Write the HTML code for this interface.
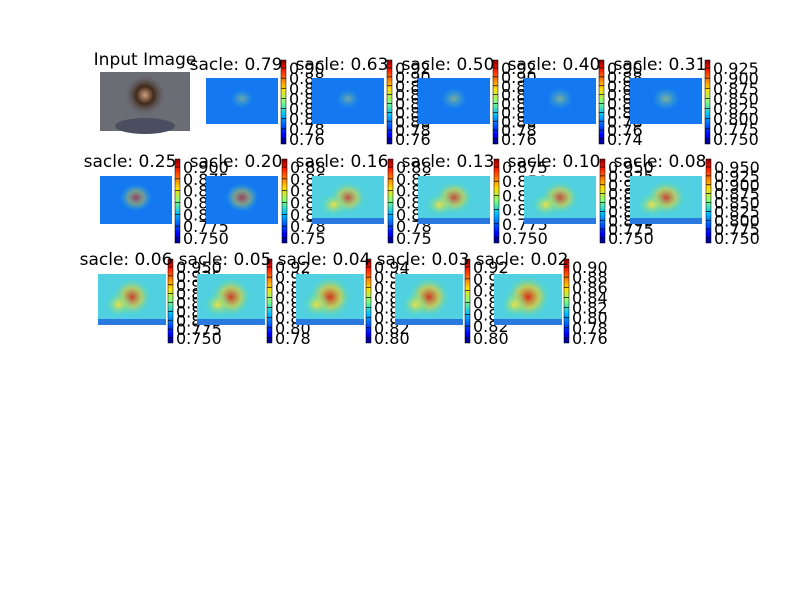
<!DOCTYPE html>
<html><head><meta charset="utf-8"><style>
body{margin:0;background:#fff;}
svg text{font-family:"DejaVu Sans","Liberation Sans",sans-serif;}
</style></head><body>
<svg id="fig" width="800" height="600" xmlns="http://www.w3.org/2000/svg">
<defs>
<linearGradient id="jet" x1="0" y1="1" x2="0" y2="0">
<stop offset="0" stop-color="#00007f"/><stop offset="0.11" stop-color="#0000ff"/>
<stop offset="0.35" stop-color="#00bfff"/><stop offset="0.5" stop-color="#7fff7f"/>
<stop offset="0.65" stop-color="#ffdf00"/><stop offset="0.89" stop-color="#ff1500"/>
<stop offset="1" stop-color="#7f0000"/></linearGradient>
<radialGradient id="hot"><stop offset="0" stop-color="#e0200a"/><stop offset="0.5" stop-color="#f0d020" stop-opacity="0.7"/><stop offset="1" stop-color="#40e0c0" stop-opacity="0"/></radialGradient>
<radialGradient id="warm"><stop offset="0" stop-color="#f0e040"/><stop offset="1" stop-color="#40e0c0" stop-opacity="0"/></radialGradient>
<radialGradient id="face"><stop offset="0" stop-color="#d0a080"/><stop offset="0.4" stop-color="#402818"/><stop offset="1" stop-color="#707080" stop-opacity="0"/></radialGradient>
</defs>
<rect x="100" y="72" width="90" height="59" fill="#6a6e74"/>
<ellipse cx="145" cy="95" rx="22" ry="22" fill="url(#face)"/>
<ellipse cx="145" cy="126" rx="30" ry="8" fill="#4a4e60"/>
<text x="145" y="65" font-size="17" text-anchor="middle">Input Image</text>
<g id="plots"></g>
</svg>
<script>
const titles=["sacle: 0.79","sacle: 0.63","sacle: 0.50","sacle: 0.40","sacle: 0.31","sacle: 0.25","sacle: 0.20","sacle: 0.16","sacle: 0.13","sacle: 0.10","sacle: 0.08","sacle: 0.06","sacle: 0.05","sacle: 0.04","sacle: 0.03","sacle: 0.02"];
const tickLabels=[
["0.76","0.78","0.80","0.82","0.84","0.86","0.88","0.90"],
["0.76","0.78","0.80","0.82","0.84","0.86","0.88","0.90","0.92"],
["0.76","0.78","0.80","0.82","0.84","0.86","0.88","0.90","0.92"],
["0.74","0.76","0.78","0.80","0.82","0.84","0.86","0.88","0.90"],
["0.750","0.775","0.800","0.825","0.850","0.875","0.900","0.925"],
["0.750","0.775","0.800","0.825","0.850","0.875","0.900"],
["0.75","0.78","0.80","0.82","0.84","0.86","0.88"],
["0.75","0.78","0.80","0.82","0.84","0.86","0.88"],
["0.750","0.775","0.800","0.825","0.850","0.875"],
["0.750","0.775","0.800","0.825","0.850","0.875","0.900","0.925","0.950"],
["0.750","0.775","0.800","0.825","0.850","0.875","0.900","0.925","0.950"],
["0.750","0.775","0.800","0.825","0.850","0.875","0.900","0.925","0.950"],
["0.78","0.80","0.82","0.84","0.86","0.88","0.90","0.92"],
["0.80","0.82","0.84","0.86","0.88","0.90","0.92","0.94"],
["0.80","0.82","0.84","0.86","0.88","0.90","0.92"],
["0.76","0.78","0.80","0.82","0.84","0.86","0.88","0.90"]];
const heat=[0.05,0.05,0.15,0.15,0.2,0.35,0.4,0.55,0.6,0.6,0.65,0.7,0.75,0.85,0.8,0.9];
const g=document.getElementById('plots');
const NS='http://www.w3.org/2000/svg';
function mk(t,a){const e=document.createElementNS(NS,t);for(const k in a)e.setAttribute(k,a[k]);g.appendChild(e);return e;}
const layout=[];
for(let i=0;i<5;i++)layout.push({ix:206+106*i,iy:78,iw:72,ih:46,cx:281+106*i,cy0:60,cy1:144});
for(let i=0;i<6;i++)layout.push({ix:100+106*i,iy:176,iw:72,ih:48,cx:175+106*i+(i>0?1:0),cy0:159,cy1:243});
for(let i=0;i<5;i++)layout.push({ix:98+99*i,iy:274,iw:68,ih:51,cx:168+99*i,cy0:259,cy1:343});
titles.forEach((t,i)=>{
 const L=layout[i];
 const im=mk('rect',{x:L.ix,y:L.iy,width:L.iw,height:L.ih,fill:heat[i]>0.5?'#50d0e0':'#1478f0'});
 
 
 const h=heat[i];
 mk('ellipse',{cx:L.ix+L.iw*0.5,cy:L.iy+L.ih*0.45,rx:L.iw*(0.15+0.2*h),ry:L.ih*(0.2+0.25*h),fill:h>0.3?'url(#hot)':'url(#warm)',opacity:0.4+0.6*h});
 if(h>0.5){mk('ellipse',{cx:L.ix+L.iw*0.3,cy:L.iy+L.ih*0.6,rx:L.iw*0.2,ry:L.ih*0.25,fill:'url(#warm)'});
  mk('rect',{x:L.ix,y:L.iy+L.ih-6,width:L.iw,height:6,fill:'#1040e0',opacity:0.6});}
 const cb=mk('rect',{x:L.cx,y:L.cy0,width:5,height:L.cy1-L.cy0,fill:'url(#jet)',stroke:'#000','stroke-width':0.5});
 
 
 const tk=tickLabels[i],n=tk.length,bot=L.cy1-5,top=L.cy0+8;
 tk.forEach((s,j)=>{
  const y=bot-(bot-top)*j/(n-1);
  mk('line',{x1:L.cx,x2:L.cx+5,y1:y,y2:y,stroke:'#000','stroke-width':0.7});
  const tx=mk('text',{x:L.cx+8,y:y+6,'font-size':16});
  tx.textContent=s;
  
  
 });
 const tt=mk('text',{x:L.ix+L.iw/2-6,y:L.iy-(i<5?8:9),'font-size':17,'text-anchor':'middle'});
 tt.textContent=t;
 
 
});
</script>
</body></html>
